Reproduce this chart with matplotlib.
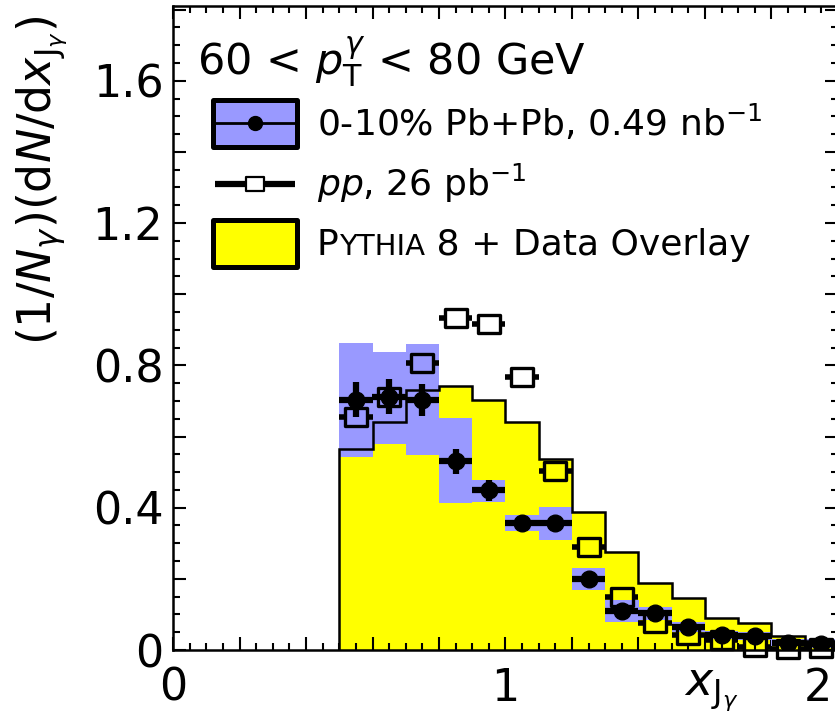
import matplotlib
matplotlib.use('Agg')
import matplotlib.pyplot as plt
import matplotlib.transforms as mtransforms
import numpy as np
from matplotlib.patches import Rectangle
from matplotlib.lines import Line2D
from matplotlib.path import Path
from matplotlib.ticker import FixedLocator, FuncFormatter

plt.rcParams['font.family'] = ['DejaVu Sans']
plt.rcParams['mathtext.fontset'] = 'dejavusans'

# ---------------- data ----------------
bin_edges = [0.5, 0.6, 0.7, 0.8, 0.9, 1.0, 1.1, 1.2, 1.3, 1.4, 1.5, 1.6, 1.7, 1.8, 1.9, 2.0]
pythia = [0.565, 0.640, 0.730, 0.742, 0.704, 0.640, 0.537, 0.388, 0.276, 0.187,
          0.145, 0.089, 0.075, 0.039, 0.025]
pbpb = [0.704, 0.712, 0.704, 0.531, 0.449, 0.358, 0.358, 0.200, 0.110, 0.103,
        0.066, 0.042, 0.039, 0.020, 0.018]
pbpb_stat = [0.050, 0.050, 0.045, 0.035, 0.030, 0.020, 0.020, 0.015, 0.012, 0.012,
             0.010, 0.010, 0.010, 0.010, 0.010]
pbpb_sys_lo = [0.543, 0.580, 0.548, 0.412, 0.417, 0.335, 0.309, 0.169, 0.080, 0.085,
               0.050, 0.032, 0.027, 0.010, 0.006]
pbpb_sys_hi = [0.864, 0.838, 0.859, 0.651, 0.478, 0.380, 0.403, 0.230, 0.140, 0.120,
               0.078, 0.052, 0.050, 0.030, 0.030]
pp = [0.655, 0.710, 0.807, 0.934, 0.916, 0.766, 0.504, 0.290, 0.150, 0.077,
      0.042, 0.028, 0.009, 0.003, 0.005]
pp_stat = [0.010, 0.010, 0.010, 0.010, 0.010, 0.010, 0.008, 0.006, 0.005, 0.004,
           0.003, 0.003, 0.002, 0.002, 0.002]

x_tick_labels = {0.0: '0', 1.0: '1'}
x_last_label = '2'
y_tick_labels = {0.0: '0', 0.4: '0.4', 0.8: '0.8', 1.2: '1.2', 1.6: '1.6'}

# ---------------- figure ----------------
W, H = 835, 716
fig = plt.figure(figsize=(W / 100, H / 100), dpi=100)
ax = fig.add_axes([173 / W, 66 / H, 665 / W, 644 / H])
ax.set_xlim(0, 2)
ax.set_ylim(0, 1.81)

edges = np.array(bin_edges)
lo = edges[:-1]
hi = edges[1:]
centers = 0.5 * (lo + hi)
widths = hi - lo

YEL = '#ffff00'
BLU = '#9999ff'

# Pythia histogram fill
ax.bar(lo, pythia, width=widths, align='edge', color=YEL, edgecolor='none', zorder=1)
# Pb+Pb systematic boxes
for l, w, a, b in zip(lo, widths, pbpb_sys_lo, pbpb_sys_hi):
    ax.add_patch(Rectangle((l, a), w, b - a, facecolor=BLU, edgecolor='none', zorder=2))
# Pythia outline
ax.stairs(pythia, edges, baseline=0, color='black', lw=1.8, zorder=3)

# pp: open rectangles, horizontal bars stop at marker edge
rect = Path([(-1, -0.78), (1, -0.78), (1, 0.78), (-1, 0.78), (-1, -0.78)],
            [Path.MOVETO, Path.LINETO, Path.LINETO, Path.LINETO, Path.CLOSEPOLY])
gap = 0.033
ax.hlines(pp, lo, centers - gap, color='black', lw=4, zorder=4)
ax.hlines(pp, centers + gap, hi, color='black', lw=4, zorder=4)
ax.plot(centers, pp, linestyle='none', marker=rect, ms=16, mfc='none', mec='black',
        mew=2.4, zorder=4, clip_on=False)

# Pb+Pb: filled circles with stat errors
ax.errorbar(centers, pbpb, xerr=widths / 2, yerr=pbpb_stat, fmt='o', color='black',
            ms=12, elinewidth=4.5, capsize=0, zorder=5)

# ---------------- axes styling ----------------
for s in ax.spines.values():
    s.set_linewidth(1.8)
ax.xaxis.set_major_locator(FixedLocator(np.round(np.arange(0, 2.01, 0.2), 2)))
ax.xaxis.set_minor_locator(FixedLocator(np.round(np.arange(0, 2.01, 0.05), 3)))
ax.yaxis.set_major_locator(FixedLocator(np.round(np.arange(0, 1.81, 0.2), 2)))
ax.yaxis.set_minor_locator(FixedLocator(np.round(np.arange(0, 1.81, 0.05), 3)))


def fmt_factory(d):
    def f(v, pos):
        for k, s in d.items():
            if abs(v - k) < 1e-6:
                return s
        return ''
    return f


ax.xaxis.set_major_formatter(FuncFormatter(fmt_factory(x_tick_labels)))
ax.yaxis.set_major_formatter(FuncFormatter(fmt_factory(y_tick_labels)))
ax.tick_params(which='both', direction='in', top=True, right=True, width=1.5)
ax.tick_params(which='major', length=9.5)
ax.tick_params(which='minor', length=5)
ax.tick_params(axis='x', which='major', labelsize=32, pad=12)
ax.tick_params(axis='y', which='major', labelsize=32, pad=7)
# last x label, right-aligned near its tick so it stays inside the picture
last_tr = mtransforms.offset_copy(ax.get_xaxis_transform(), fig=fig, x=-6, y=0, units='dots')
ax.text(2.0, -0.026, x_last_label, transform=last_tr, ha='right', va='top', fontsize=32)

# axis titles
fig.text(42 / W, 1 - 16 / H, r'$(1/N_{\gamma})(\mathrm{d}N/\mathrm{d}x_{\mathrm{J}_{\gamma}})$',
         rotation=90, ha='center', va='top', fontsize=33)
fig.text(738 / W, 1 - 668 / H, r'$x_{\mathrm{J}_{\gamma}}$', ha='right', va='top', fontsize=33)

# ---------------- header + legend ----------------
def fx(px):
    return px / W


def fy(py):
    return 1 - py / H


fig.text(fx(197), fy(76), r'60 < $p_{\mathrm{T}}^{\gamma}$ < 80 GeV', ha='left', va='baseline',
         fontsize=31)

# entry 1: Pb+Pb
fig.add_artist(Rectangle((fx(213), fy(147)), (297 - 213) / W, (147 - 100) / H,
                         transform=fig.transFigure, facecolor=BLU, edgecolor='black',
                         lw=3.6, joinstyle='round'))
fig.add_artist(Line2D([fx(213), fx(297)], [fy(123), fy(123)], transform=fig.transFigure,
                      color='black', lw=2))
fig.add_artist(Line2D([fx(255)], [fy(123)], transform=fig.transFigure, marker='o',
                      ms=10, color='black', linestyle='none'))
fig.text(fx(317), fy(136), r'0-10% Pb+Pb, 0.49 nb$^{-1}$', ha='left', va='baseline',
         fontsize=26)

# entry 2: pp
fig.add_artist(Line2D([fx(215), fx(245)], [fy(184), fy(184)], transform=fig.transFigure,
                      color='black', lw=4.5, solid_capstyle='butt'))
fig.add_artist(Line2D([fx(265), fx(295)], [fy(184), fy(184)], transform=fig.transFigure,
                      color='black', lw=4.5, solid_capstyle='butt'))
fig.add_artist(Line2D([fx(255)], [fy(184)], transform=fig.transFigure, marker=rect,
                      ms=13, mfc='white', mec='black', mew=1.6, linestyle='none'))
fig.text(fx(317), fy(196), r'$pp$, 26 pb$^{-1}$', ha='left', va='baseline', fontsize=26)

# entry 3: Pythia (small caps), all parts on one baseline
fig.add_artist(Rectangle((fx(213), fy(267)), (297 - 213) / W, (267 - 220) / H,
                         transform=fig.transFigure, facecolor=YEL, edgecolor='black',
                         lw=3.6, joinstyle='round'))
renderer = fig.canvas.get_renderer()
base_y = fy(255)
parts = [('P', 26), ('YTHIA', 21), (' 8 + Data Overlay', 26)]
cur_x = 317
for s, size in parts:
    t = fig.text(fx(cur_x), base_y, s, ha='left', va='baseline', fontsize=size)
    ext = t.get_window_extent(renderer=renderer)
    cur_x = ext.x1

fig.savefig('out.png', dpi=100)
